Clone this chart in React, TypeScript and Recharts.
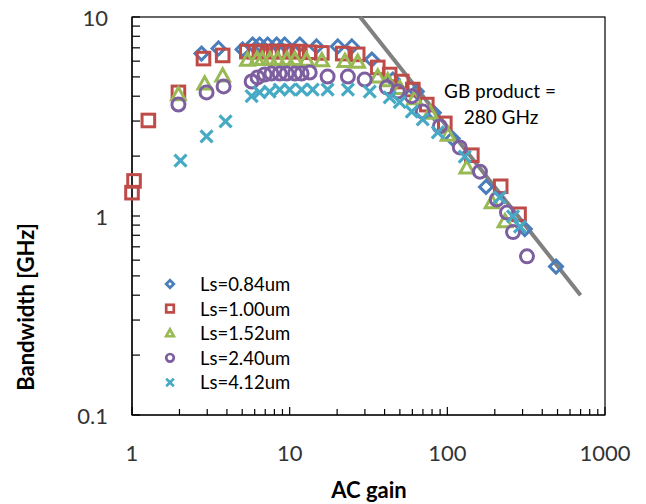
import { ScatterChart, Scatter, XAxis, YAxis, Customized } from "recharts";

// series (AC gain vs bandwidth in GHz)
const gain084 = [2.76, 3.54, 5.03, 5.82, 6.45, 7.25, 8.27, 9.29, 11.6, 14.8, 20.2, 24.8, 33.2, 45.1, 64, 82, 108, 176, 310, 489];
const bw084 = [6.55, 6.95, 6.87, 7.27, 7.27, 7.27, 7.27, 7.27, 7.27, 7.11, 7.11, 7.11, 6.11, 4.85, 4.22, 3.3, 2.45, 1.4, 0.86, 0.557];

const gain100 = [1.0, 1.03, 1.27, 1.97, 2.84, 3.76, 5.35, 6.0, 6.6, 7.5, 8.4, 9.3, 10.5, 11.6, 13.4, 16.0, 21.7, 27, 36.2, 43.1, 51.4, 60.4, 74.1, 96.4, 143, 218, 285];
const bw100 = [1.31, 1.5, 3.02, 4.18, 6.18, 6.41, 6.7, 6.7, 6.7, 6.7, 6.7, 6.7, 6.7, 6.7, 6.65, 6.6, 6.55, 6.49, 5.58, 5.14, 4.74, 4.32, 3.63, 2.92, 2.02, 1.41, 1.02];

const gain152 = [1.97, 2.89, 3.76, 5.4, 6.2, 6.7, 7.5, 8.4, 9.6, 10.8, 12.8, 16.0, 22.4, 27, 36.2, 41.9, 50, 62, 78, 101, 133, 192, 232];
const bw152 = [4.09, 4.63, 5.08, 6.1, 6.15, 6.15, 6.15, 6.15, 6.15, 6.15, 6.1, 6.05, 6.0, 5.95, 5.02, 4.8, 4.4, 3.9, 3.3, 2.56, 1.75, 1.17, 0.94];

const gain240 = [1.97, 2.97, 3.81, 5.74, 6.26, 6.94, 7.66, 8.64, 9.57, 10.8, 11.9, 13.4, 17.4, 23.4, 29.9, 41.3, 48.5, 59.5, 69.8, 89.6, 120, 161, 206, 239, 261, 320];
const bw240 = [3.63, 4.18, 4.48, 4.74, 4.97, 5.14, 5.2, 5.2, 5.2, 5.2, 5.2, 5.26, 5.02, 5.02, 4.85, 4.43, 4.22, 4.0, 3.35, 2.82, 2.21, 1.67, 1.21, 1.04, 0.83, 0.627];

const gain412 = [2.03, 2.97, 3.92, 5.74, 6.45, 7.46, 8.64, 10, 11.9, 14, 17.4, 23.4, 32.2, 43.1, 49.9, 59.5, 69.8, 87, 129, 215, 261, 289];
const bw412 = [1.9, 2.51, 2.99, 4.0, 4.18, 4.22, 4.32, 4.32, 4.32, 4.32, 4.32, 4.32, 4.22, 3.95, 3.73, 3.35, 3.06, 2.63, 1.99, 1.24, 0.995, 0.885];

// GB product = 280 GHz guide line
const gbGain = [28, 700];
const gbBw = [10, 0.4];

const xMajor = [1, 10, 100, 1000];
const yMajor = [0.1, 1, 10];
const legendNames = ["Ls=0.84um", "Ls=1.00um", "Ls=1.52um", "Ls=2.40um", "Ls=4.12um"];

const BLUE = "#4A7EBB";
const RED = "#BE4B48";
const GREEN = "#98B954";
const PURPLE = "#7D5FA0";
const TEAL = "#46AAC5";
const FONT = "Lato, 'Open Sans', sans-serif";

const toPoints = (xs: number[], ys: number[]) => xs.map((x, i) => ({ x, y: ys[i] }));

const minorTicks = (majors: number[]) => {
  const out: number[] = [];
  majors.forEach((m, i) => {
    if (i === majors.length - 1) { out.push(m); return; }
    for (let k = 1; k < 10; k++) out.push(+(m * k).toPrecision(6));
  });
  return out;
};
const xTicks = minorTicks(xMajor);
const yTicks = minorTicks(yMajor);
const isMajor = (v: number) => Math.abs(Math.log10(v) - Math.round(Math.log10(v))) < 1e-6;

const XTick = ({ x, y, payload }: any) => {
  const major = isMajor(payload.value);
  return (
    <g>
      <line x1={x} x2={x} y1={y} y2={y - (major ? 8 : 6)} stroke="#000" strokeWidth={1.2} />
      {major && (
        <text x={x} y={y + 37} textAnchor="middle" dominantBaseline="central" fill="#333" fontSize={22} fontFamily={FONT}>
          {payload.value}
        </text>
      )}
    </g>
  );
};

const YTick = ({ x, y, payload }: any) => {
  const major = isMajor(payload.value);
  return (
    <g>
      <line x1={x} x2={x + 8} y1={y} y2={y} stroke="#000" strokeWidth={1.2} />
      {major && (
        <text x={x - 24} y={y} textAnchor="end" dominantBaseline="central" fill="#333" fontSize={22} fontFamily={FONT}>
          {payload.value}
        </text>
      )}
    </g>
  );
};

type Mk = { cx: number; cy: number; s?: number; w?: number };
const DiamondMk = ({ cx, cy, s = 6.5, w = 3 }: Mk) => (
  <polygon points={`${cx},${cy - s} ${cx + s},${cy} ${cx},${cy + s} ${cx - s},${cy}`} fill="none" stroke={BLUE} strokeWidth={w} />
);
const SquareMk = ({ cx, cy, s = 6.3, w = 3 }: Mk) => (
  <rect x={cx - s} y={cy - s} width={2 * s} height={2 * s} fill="none" stroke={RED} strokeWidth={w} />
);
const TriangleMk = ({ cx, cy, s = 6.8, w = 3 }: Mk) => (
  <polygon points={`${cx},${cy - s} ${cx + s},${cy + s * 0.8} ${cx - s},${cy + s * 0.8}`} fill="none" stroke={GREEN} strokeWidth={w} />
);
const CircleMk = ({ cx, cy, s = 6.5, w = 3 }: Mk) => (
  <circle cx={cx} cy={cy} r={s} fill="none" stroke={PURPLE} strokeWidth={w} />
);
const CrossMk = ({ cx, cy, s = 6, w = 3.2 }: Mk) => (
  <g stroke={TEAL} strokeWidth={w}>
    <line x1={cx - s} y1={cy - s} x2={cx + s} y2={cy + s} />
    <line x1={cx - s} y1={cy + s} x2={cx + s} y2={cy - s} />
  </g>
);
const markers = [DiamondMk, SquareMk, TriangleMk, CircleMk, CrossMk];

const Decorations = () => (
  <g fontFamily={FONT}>
    <rect x={132} y={17} width={473} height={398} fill="none" stroke="#000" strokeWidth={1.2} />
    <text x={500} y={90} textAnchor="middle" dominantBaseline="central" fontSize={19} fill="#000">GB product =</text>
    <text x={501} y={116} textAnchor="middle" dominantBaseline="central" fontSize={19} fill="#000">280 GHz</text>
    <text x={369} y={489} textAnchor="middle" dominantBaseline="central" fontSize={22} fontWeight="bold" fill="#000">AC gain</text>
    <text transform="translate(25,307) rotate(-90)" textAnchor="middle" dominantBaseline="central" fontSize={22} fontWeight="bold" fill="#000">Bandwidth [GHz]</text>
    {legendNames.map((name, i) => {
      const Mk = markers[i];
      const cy = 284 + i * 24.6;
      return (
        <g key={name}>
          <Mk cx={170} cy={cy} s={i === 4 ? 3.8 : 3.8} w={2.7} />
          <text x={200} y={cy} dominantBaseline="central" fontSize={18.5} fill="#000">{name}</text>
        </g>
      );
    })}
  </g>
);

export default function App() {
  return (
    <div style={{ position: "absolute", left: 0, top: 0, width: 646, height: 504, background: "#fff" }}>
      <ScatterChart width={646} height={504} margin={{ top: 17, right: 41, bottom: 59, left: 0 }}>
        <XAxis
          dataKey="x"
          type="number"
          scale="log"
          domain={[1, 1000]}
          ticks={xTicks}
          height={30}
          tickSize={0}
          tickMargin={0}
          tickLine={false}
          interval={0}
          axisLine={{ stroke: "#000", strokeWidth: 1.2 }}
          tick={(p: any) => <XTick {...p} />}
        />
        <YAxis
          dataKey="y"
          type="number"
          scale="log"
          domain={[0.1, 10]}
          ticks={yTicks}
          width={132}
          tickSize={0}
          tickMargin={0}
          tickLine={false}
          interval={0}
          axisLine={{ stroke: "#000", strokeWidth: 1.2 }}
          tick={(p: any) => <YTick {...p} />}
        />
        <Scatter
          data={toPoints(gbGain, gbBw)}
          line={{ stroke: "#808080", strokeWidth: 4 }}
          shape={() => <g />}
          isAnimationActive={false}
        />
        <Scatter data={toPoints(gain084, bw084)} shape={(p: any) => <DiamondMk cx={p.cx} cy={p.cy} />} isAnimationActive={false} />
        <Scatter data={toPoints(gain100, bw100)} shape={(p: any) => <SquareMk cx={p.cx} cy={p.cy} />} isAnimationActive={false} />
        <Scatter data={toPoints(gain152, bw152)} shape={(p: any) => <TriangleMk cx={p.cx} cy={p.cy} />} isAnimationActive={false} />
        <Scatter data={toPoints(gain240, bw240)} shape={(p: any) => <CircleMk cx={p.cx} cy={p.cy} />} isAnimationActive={false} />
        <Scatter data={toPoints(gain412, bw412)} shape={(p: any) => <CrossMk cx={p.cx} cy={p.cy} />} isAnimationActive={false} />
        <Customized component={Decorations} />
      </ScatterChart>
    </div>
  );
}
